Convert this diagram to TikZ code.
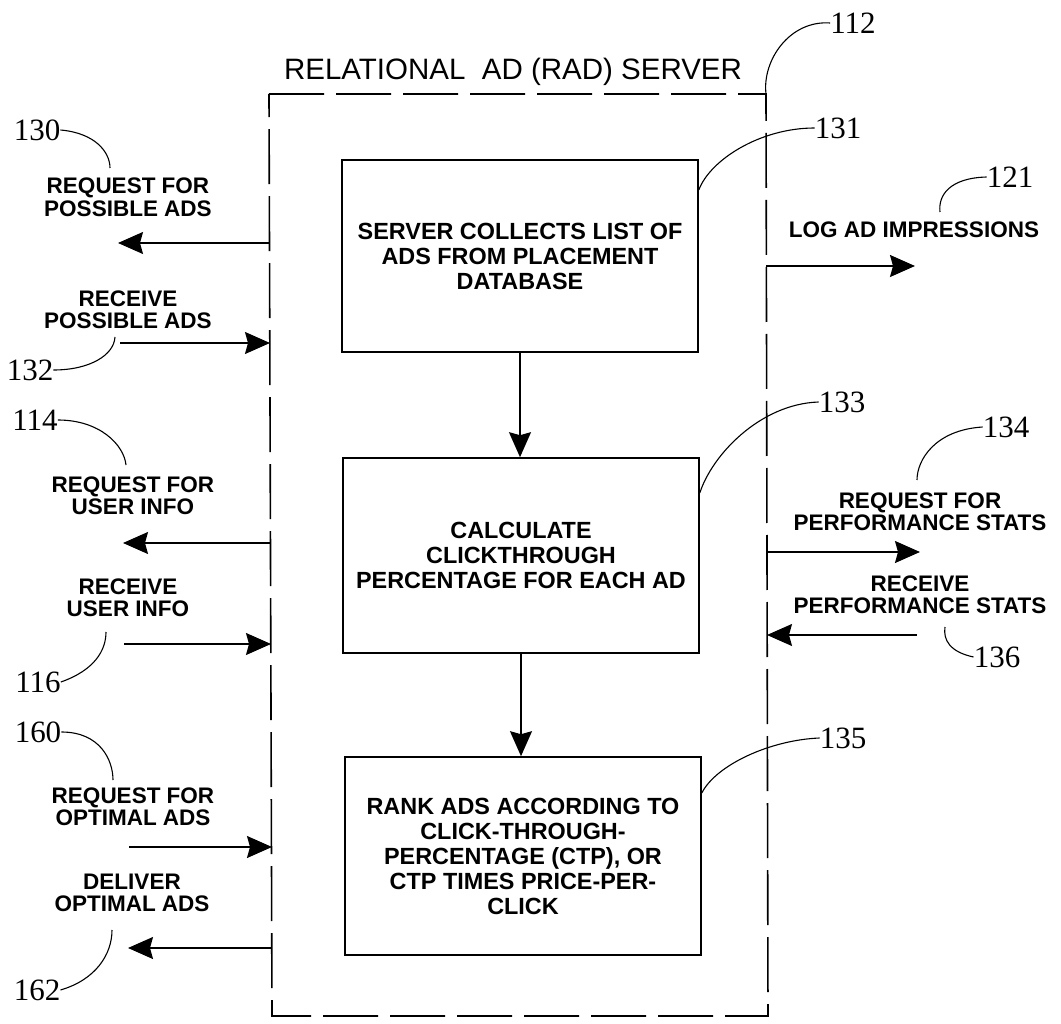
\documentclass[tikz,border=0pt]{standalone}
\usepackage{fontspec}
\setmainfont{Liberation Serif}
\newfontfamily\sansf{Liberation Sans}
\usetikzlibrary{arrows.meta}
\tikzset{
  procbox/.style={draw, line width=1.6pt, minimum width=356pt, inner sep=0pt, align=center,
    font=\sansf\bfseries\fontsize{23.4}{25}\selectfont},
  lbl/.style={align=center, inner sep=0pt, font=\sansf\bfseries\fontsize{22.5}{22.5}\selectfont},
  refnum/.style={inner sep=0pt, font=\fontsize{31}{31}\selectfont},
  flow/.style={line width=1.4pt, -{Stealth[length=25pt, width=22pt, inset=3pt]}},
  leader/.style={line width=1.1pt},
  frame/.style={line width=1.6pt, dash pattern=on 55pt off 12pt}
}
\begin{document}
\begin{tikzpicture}[x=1pt,y=-1pt]
\useasboundingbox (0,0) rectangle (1061,1024);
% dashed server frame
\coordinate (fTL) at (269,94);
\coordinate (fTR) at (766,94);
\coordinate (fBR) at (768,1016);
\coordinate (fBL) at (272,1016);
\draw[frame] (fTL) -- (fTR) -- (fBR) -- (fBL) -- cycle;
\node[font=\sansf\fontsize{29.5}{30}\selectfont, inner sep=0pt] (title) at (513,72) {RELATIONAL\ \ AD (RAD) SERVER};

% process boxes
\node[procbox, minimum height=192pt] (b1) at (520,256) {SERVER COLLECTS LIST OF\\ADS FROM PLACEMENT\\DATABASE};
\node[procbox, minimum height=195pt] (b2) at (521,555.5) {CALCULATE\\CLICKTHROUGH\\PERCENTAGE FOR EACH AD};
\node[procbox, minimum height=198pt] (b3) at (523,856) {RANK ADS ACCORDING TO\\CLICK-THROUGH-\\PERCENTAGE (CTP), OR\\CTP TIMES PRICE-PER-\\CLICK};
\draw[flow] (b1.south) -- (b1.south |- b2.north);
\draw[flow] (b2.south) -- (b2.south |- b3.north);

% left side arrows
\coordinate (l1s) at (269,243);   \coordinate (l1e) at (118,243);
\coordinate (l2s) at (120,343);   \coordinate (l2e) at (270,343);
\coordinate (l3s) at (270,543);   \coordinate (l3e) at (123,543);
\coordinate (l4s) at (124,644);   \coordinate (l4e) at (271,644);
\coordinate (l5s) at (129,847);   \coordinate (l5e) at (272,847);
\coordinate (l6s) at (272,948);   \coordinate (l6e) at (128,948);
\draw[flow] (l1s) -- (l1e);
\draw[flow] (l2s) -- (l2e);
\draw[flow] (l3s) -- (l3e);
\draw[flow] (l4s) -- (l4e);
\draw[flow] (l5s) -- (l5e);
\draw[flow] (l6s) -- (l6e);

% right side arrows
\coordinate (r1s) at (766,266);   \coordinate (r1e) at (915,266);
\coordinate (r2s) at (767,552);   \coordinate (r2e) at (920,552);
\coordinate (r3s) at (917,635);   \coordinate (r3e) at (767,635);
\draw[flow] (r1s) -- (r1e);
\draw[flow] (r2s) -- (r2e);
\draw[flow] (r3s) -- (r3e);

% labels
\node[lbl] (t130) at (128,197.5) {REQUEST FOR\\POSSIBLE ADS};
\node[lbl] (t132) at (128,310) {RECEIVE\\POSSIBLE ADS};
\node[lbl] (t114) at (133,496) {REQUEST FOR\\USER INFO};
\node[lbl] (t116) at (128,598) {RECEIVE\\USER INFO};
\node[lbl] (t160) at (133,807) {REQUEST FOR\\OPTIMAL ADS};
\node[lbl] (t162) at (132,893) {DELIVER\\OPTIMAL ADS};
\node[lbl] (t121) at (914,230) {LOG AD IMPRESSIONS};
\node[lbl] (t134) at (920,512) {REQUEST FOR\\PERFORMANCE STATS};
\node[lbl] (t136) at (920,595) {RECEIVE\\PERFORMANCE STATS};

% reference numbers
\node[refnum] (n112) at (853,23) {112};
\node[refnum] (n131) at (838,128) {131};
\node[refnum] (n121) at (1010,177) {121};
\node[refnum] (n130) at (37,130) {130};
\node[refnum] (n132) at (30,370) {132};
\node[refnum] (n114) at (35,420) {114};
\node[refnum] (n116) at (38,682) {116};
\node[refnum] (n160) at (38,732) {160};
\node[refnum] (n162) at (37,990) {162};
\node[refnum] (n133) at (842,402) {133};
\node[refnum] (n134) at (1006,427) {134};
\node[refnum] (n136) at (997,657) {136};
\node[refnum] (n135) at (843,738) {135};

% leader lines
\draw[leader] (n112.west) .. controls (790,20) and (762,60) .. (fTR);
\coordinate (b1r) at (b1.north east |- 0,190);
\draw[leader] (n131.west) .. controls (760,128) and (710,160) .. (b1r);
\draw[leader] (n121.west) .. controls (950,178) and (938,195) .. (940,212);
\draw[leader] (n130.east) .. controls (95,133) and (110,152) .. (110,168);
\draw[leader] (n132.east) .. controls (90,370) and (114,355) .. (115,337);
\draw[leader] (n114.east) .. controls (100,420) and (124,445) .. (126,465);
\draw[leader] (n116.east) .. controls (95,670) and (106,650) .. (106,632);
\draw[leader] (n160.east) .. controls (100,732) and (113,760) .. (113,780);
\draw[leader] (n162.east) .. controls (95,980) and (112,955) .. (112,930);
\coordinate (b2r) at (b2.north east |- 0,493);
\draw[leader] (n133.west) .. controls (760,404) and (712,455) .. (b2r);
\draw[leader] (n134.west) .. controls (935,430) and (917,460) .. (917,480);
\draw[leader] (n136.west) .. controls (950,652) and (943,640) .. (945,627);
\coordinate (b3r) at (b3.north east |- 0,793);
\draw[leader] (n135.west) .. controls (770,740) and (716,765) .. (b3r);
\end{tikzpicture}
\end{document}
